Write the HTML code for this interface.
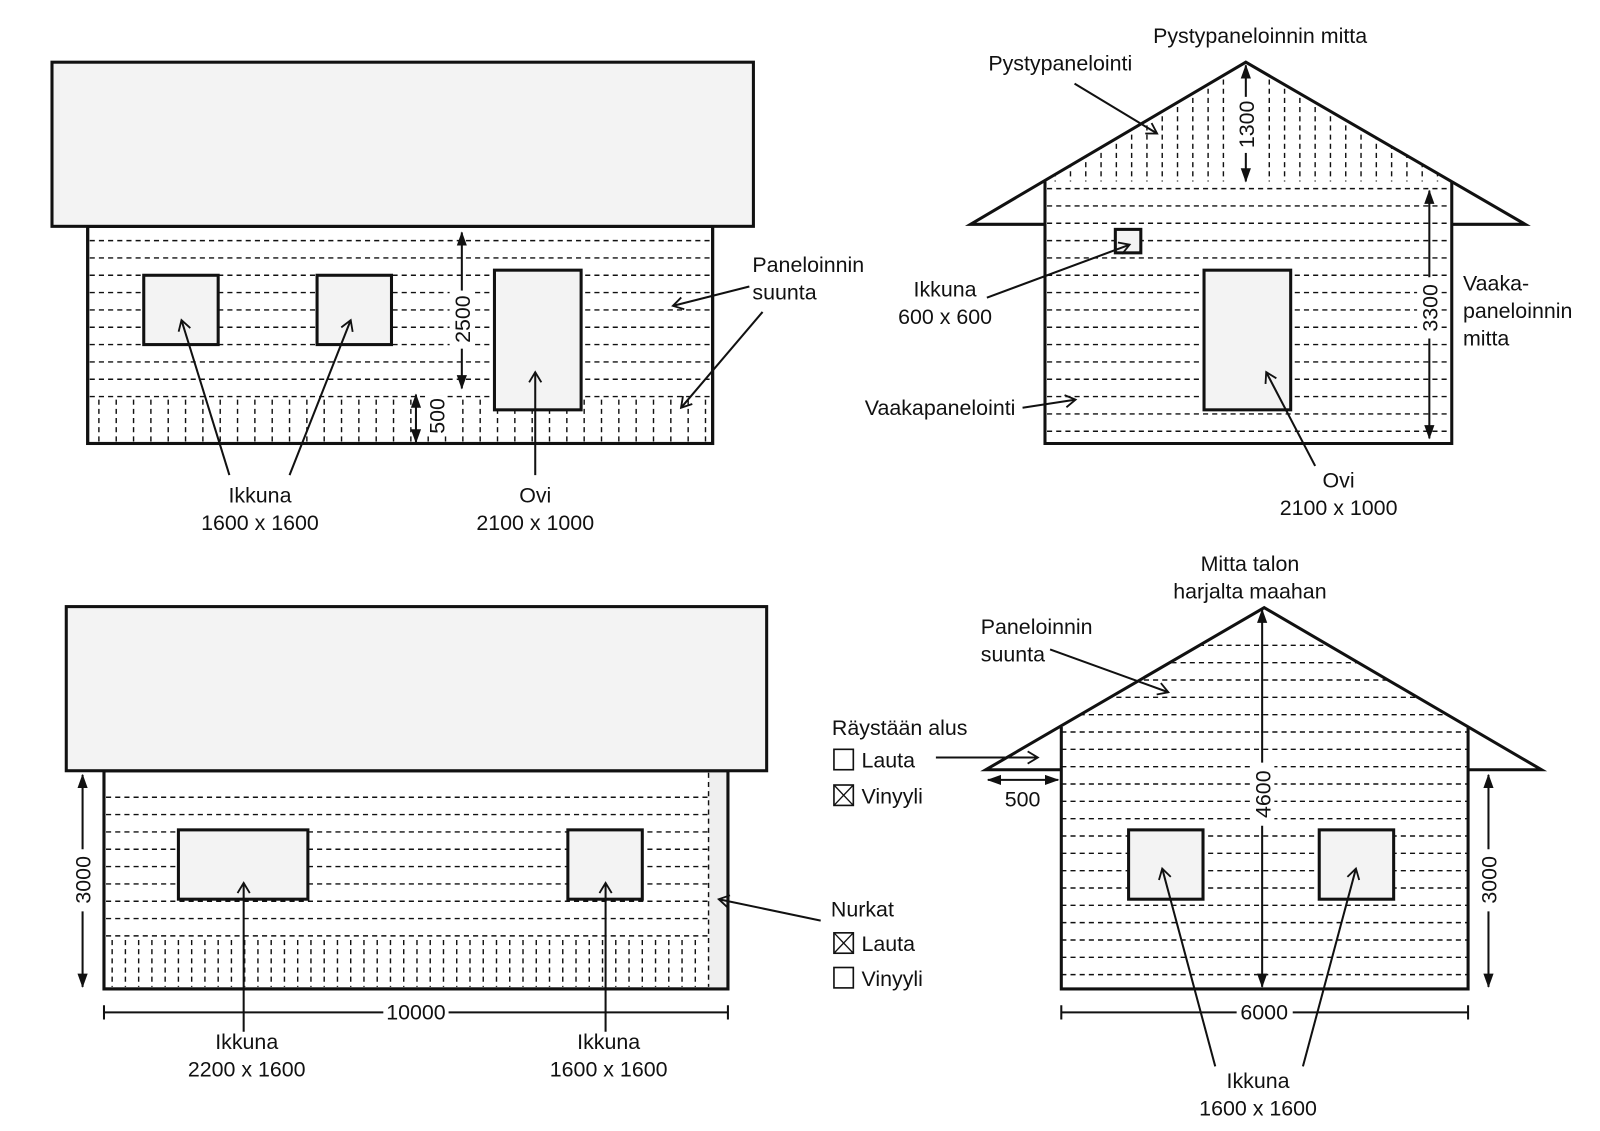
<!DOCTYPE html>
<html><head><meta charset="utf-8"><style>
html,body{margin:0;padding:0;background:#fff}
svg{display:block}
text{font-family:"Liberation Sans Narrow","Liberation Sans",sans-serif;font-size:21px;fill:#111}
.o{fill:#f3f3f3;stroke:#111;stroke-width:3}
.w{fill:#fff;stroke:#111;stroke-width:3}
.d{stroke:#111;stroke-width:1.4;stroke-dasharray:5,4;fill:none}
.a{stroke:#111;stroke-width:2;fill:none}
</style></head><body>
<svg width="1600" height="1131" viewBox="0 0 1600 1131" xmlns="http://www.w3.org/2000/svg">
<defs>
<marker id="v" markerWidth="14" markerHeight="14" refX="11" refY="7" orient="auto" markerUnits="userSpaceOnUse"><path d="M1,1 L11,7 L1,13" fill="none" stroke="#111" stroke-width="1.8"/></marker>
<marker id="f" markerWidth="14" markerHeight="14" refX="13" refY="7" orient="auto-start-reverse" markerUnits="userSpaceOnUse"><path d="M0,2 L14,7 L0,12 Z" fill="#111"/></marker>
<clipPath id="g1"><polygon points="1025,178 1222,63 1424,178"/></clipPath>
<clipPath id="g2"><polygon points="1041,713 1240,598 1440,713 1440,970 1041,970"/></clipPath>
</defs>
<g transform="scale(1.0195)">

<!-- TOP LEFT -->
<rect x="86" y="222" width="613" height="213" class="w"/>
<g class="d">
<path d="M88,236H697M88,253H697M88,270H697M88,287H697M88,304H697M88,321H697M88,338H697M88,355H697M88,372H697M88,389H697"/>
<path d="M97,392V433M114,392V433M131,392V433M148,392V433M165,392V433M182,392V433M199,392V433M216,392V433M233,392V433M250,392V433M267,392V433M284,392V433M301,392V433M318,392V433M335,392V433M352,392V433M369,392V433M386,392V433M403,392V433M420,392V433M437,392V433M454,392V433M471,392V433M488,392V433M505,392V433M522,392V433M539,392V433M556,392V433M573,392V433M590,392V433M607,392V433M624,392V433M641,392V433M658,392V433M675,392V433M692,392V433"/>
</g>
<rect x="86" y="222" width="613" height="213" fill="none" stroke="#111" stroke-width="3"/>
<rect x="51" y="61" width="688" height="161" class="o"/>
<rect x="141" y="270" width="73" height="68" class="o"/>
<rect x="311" y="270" width="73" height="68" class="o"/>
<rect x="485" y="265" width="85" height="137" class="o"/>
<rect x="441" y="284" width="24" height="60" fill="#fff"/>
<line x1="453" y1="285" x2="453" y2="228" class="a" marker-end="url(#f)"/>
<line x1="453" y1="342" x2="453" y2="381" class="a" marker-end="url(#f)"/>
<text transform="translate(461,313) rotate(-90)" text-anchor="middle">2500</text>
<line x1="408" y1="387" x2="408" y2="434" class="a" marker-start="url(#f)" marker-end="url(#f)"/>
<rect x="417" y="388" width="22" height="40" fill="#fff"/>
<text transform="translate(436,408) rotate(-90)" text-anchor="middle">500</text>
<line x1="225" y1="466" x2="178" y2="314" class="a" marker-end="url(#v)" stroke-width="1.6"/>
<line x1="284" y1="466" x2="344" y2="314" class="a" marker-end="url(#v)" stroke-width="1.6"/>
<line x1="525" y1="466" x2="525" y2="365" class="a" marker-end="url(#v)" stroke-width="1.6"/>
<line x1="735" y1="281" x2="660" y2="300" class="a" marker-end="url(#v)" stroke-width="1.6"/>
<line x1="748" y1="306" x2="668" y2="400" class="a" marker-end="url(#v)" stroke-width="1.6"/>
<text x="738" y="267">Paneloinnin</text><text x="738" y="294">suunta</text>
<text x="255" y="493" text-anchor="middle">Ikkuna</text><text x="255" y="520" text-anchor="middle">1600 x 1600</text>
<text x="525" y="493" text-anchor="middle">Ovi</text><text x="525" y="520" text-anchor="middle">2100 x 1000</text>

<!-- TOP RIGHT -->
<rect x="1025" y="178" width="399" height="257" fill="#fff"/>
<g class="d">
<path d="M1027,185H1422M1027,202H1422M1027,219H1422M1027,236H1422M1027,253H1422M1027,270H1422M1027,287H1422M1027,304H1422M1027,321H1422M1027,338H1422M1027,355H1422M1027,372H1422M1027,389H1422M1027,406H1422M1027,423H1422"/>
<g clip-path="url(#g1)"><path d="M1035,60V184M1050,60V184M1065,60V184M1080,60V184M1095,60V184M1110,60V184M1125,60V184M1140,60V184M1155,60V184M1170,60V184M1185,60V184M1200,60V184M1245,60V184M1260,60V184M1275,60V184M1290,60V184M1305,60V184M1320,60V184M1335,60V184M1350,60V184M1365,60V184M1380,60V184M1395,60V184M1410,60V184"/></g>
</g>
<path d="M1025,178V435H1424V178" fill="none" stroke="#111" stroke-width="3"/>
<path d="M1025,220H952L1222,61L1496,220H1424" fill="none" stroke="#111" stroke-width="3"/>
<rect x="1094" y="225" width="25" height="23" class="o" stroke-width="2.5"/>
<rect x="1181" y="265" width="85" height="137" class="o"/>
<line x1="1222" y1="95" x2="1222" y2="64" class="a" marker-end="url(#f)"/>
<line x1="1222" y1="150" x2="1222" y2="178" class="a" marker-end="url(#f)"/>
<text transform="translate(1230,122) rotate(-90)" text-anchor="middle">1300</text>
<rect x="1390" y="272" width="24" height="60" fill="#fff"/>
<line x1="1402" y1="272" x2="1402" y2="187" class="a" marker-end="url(#f)"/>
<line x1="1402" y1="332" x2="1402" y2="430" class="a" marker-end="url(#f)"/>
<text transform="translate(1410,302) rotate(-90)" text-anchor="middle">3300</text>
<text x="1236" y="42" text-anchor="middle">Pystypaneloinnin mitta</text>
<text x="1040" y="69" text-anchor="middle">Pystypanelointi</text>
<line x1="1054" y1="82" x2="1135" y2="131" class="a" marker-end="url(#v)" stroke-width="1.6"/>
<text x="1435" y="285">Vaaka-</text><text x="1435" y="312">paneloinnin</text><text x="1435" y="339">mitta</text>
<text x="927" y="291" text-anchor="middle">Ikkuna</text><text x="927" y="318" text-anchor="middle">600 x 600</text>
<line x1="968" y1="292" x2="1108" y2="240" class="a" marker-end="url(#v)" stroke-width="1.6"/>
<text x="996" y="407" text-anchor="end">Vaakapanelointi</text>
<line x1="1003" y1="400" x2="1055" y2="392" class="a" marker-end="url(#v)" stroke-width="1.6"/>
<line x1="1290" y1="457" x2="1242" y2="365" class="a" marker-end="url(#v)" stroke-width="1.6"/>
<text x="1313" y="478" text-anchor="middle">Ovi</text><text x="1313" y="505" text-anchor="middle">2100 x 1000</text>

<!-- BOTTOM LEFT -->
<rect x="102" y="756" width="612" height="214" class="w"/>
<rect x="695" y="756" width="19" height="214" fill="#efefef"/>
<g class="d">
<path d="M104,782H695M104,799H695M104,816H695M104,833H695M104,850H695M104,867H695M104,884H695M104,901H695M104,918H695"/>
<path d="M695,758V968"/>
<path d="M110,922V968M123,922V968M136,922V968M149,922V968M162,922V968M175,922V968M188,922V968M201,922V968M214,922V968M227,922V968M240,922V968M253,922V968M266,922V968M279,922V968M292,922V968M305,922V968M318,922V968M331,922V968M344,922V968M357,922V968M370,922V968M383,922V968M396,922V968M409,922V968M422,922V968M435,922V968M448,922V968M461,922V968M474,922V968M487,922V968M500,922V968M513,922V968M526,922V968M539,922V968M552,922V968M565,922V968M578,922V968M591,922V968M604,922V968M617,922V968M630,922V968M643,922V968M656,922V968M669,922V968M682,922V968"/>
</g>
<rect x="102" y="756" width="612" height="214" fill="none" stroke="#111" stroke-width="3"/>
<rect x="65" y="595" width="687" height="161" class="o"/>
<rect x="175" y="814" width="127" height="68" class="o"/>
<rect x="557" y="814" width="73" height="68" class="o"/>
<line x1="239" y1="1012" x2="239" y2="866" class="a" marker-end="url(#v)" stroke-width="1.6"/>
<line x1="594" y1="1012" x2="594" y2="866" class="a" marker-end="url(#v)" stroke-width="1.6"/>
<text x="242" y="1029" text-anchor="middle">Ikkuna</text><text x="242" y="1056" text-anchor="middle">2200 x 1600</text>
<text x="597" y="1029" text-anchor="middle">Ikkuna</text><text x="597" y="1056" text-anchor="middle">1600 x 1600</text>
<line x1="81" y1="833" x2="81" y2="760" class="a" marker-end="url(#f)"/>
<line x1="81" y1="894" x2="81" y2="968" class="a" marker-end="url(#f)"/>
<text transform="translate(89,863) rotate(-90)" text-anchor="middle">3000</text>
<path d="M102,986V1000M714,986V1000M102,993H376M440,993H714" class="a" stroke-width="1.6"/>
<text x="408" y="1000" text-anchor="middle">10000</text>
<line x1="805" y1="903" x2="705" y2="882" class="a" marker-end="url(#v)" stroke-width="1.6"/>
<text x="815" y="899">Nurkat</text>
<rect x="818" y="915" width="19" height="20" fill="#fff" stroke="#111" stroke-width="1.6"/>
<path d="M818,915L837,935M837,915L818,935" stroke="#111" stroke-width="1.3"/>
<text x="845" y="933">Lauta</text>
<rect x="818" y="949" width="19" height="20" fill="#fff" stroke="#111" stroke-width="1.6"/>
<text x="845" y="967">Vinyyli</text>
<text x="816" y="721">Räystään alus</text>
<rect x="818" y="735" width="19" height="20" fill="#fff" stroke="#111" stroke-width="1.6"/>
<text x="845" y="753">Lauta</text>
<rect x="818" y="770" width="19" height="20" fill="#fff" stroke="#111" stroke-width="1.6"/>
<path d="M818,770L837,790M837,770L818,790" stroke="#111" stroke-width="1.3"/>
<text x="845" y="788">Vinyyli</text>
<line x1="918" y1="743" x2="1018" y2="743" class="a" marker-end="url(#v)"/>

<!-- BOTTOM RIGHT -->
<rect x="1041" y="713" width="399" height="257" fill="#fff"/>
<g class="d" clip-path="url(#g2)">
<path d="M1041,633H1440M1041,650H1440M1041,667H1440M1041,684H1440M1041,701H1440M1041,718H1440M1041,735H1440M1041,752H1440M1041,769H1440M1041,786H1440M1041,803H1440M1041,820H1440M1041,837H1440M1041,854H1440M1041,871H1440M1041,888H1440M1041,905H1440M1041,922H1440M1041,939H1440M1041,956H1440"/>
</g>
<path d="M1041,713V970H1440V713" fill="none" stroke="#111" stroke-width="3"/>
<path d="M1041,755H967L1240,596L1512,755H1440" fill="none" stroke="#111" stroke-width="3"/>
<rect x="1107" y="814" width="73" height="68" class="o"/>
<rect x="1294" y="814" width="73" height="68" class="o"/>
<rect x="1226" y="746" width="24" height="66" fill="#fff"/>
<line x1="1238" y1="748" x2="1238" y2="598" class="a" marker-end="url(#f)"/>
<line x1="1238" y1="810" x2="1238" y2="968" class="a" marker-end="url(#f)"/>
<text transform="translate(1246,779) rotate(-90)" text-anchor="middle">4600</text>
<line x1="1460" y1="833" x2="1460" y2="760" class="a" marker-end="url(#f)"/>
<line x1="1460" y1="894" x2="1460" y2="968" class="a" marker-end="url(#f)"/>
<text transform="translate(1468,863) rotate(-90)" text-anchor="middle">3000</text>
<line x1="969" y1="765" x2="1038" y2="765" class="a" marker-start="url(#f)" marker-end="url(#f)"/>
<text x="1003" y="791" text-anchor="middle">500</text>
<path d="M1041,986V1000M1440,986V1000M1041,993H1213M1268,993H1440" class="a" stroke-width="1.6"/>
<text x="1240" y="1000" text-anchor="middle">6000</text>
<text x="1226" y="560" text-anchor="middle">Mitta talon</text><text x="1226" y="587" text-anchor="middle">harjalta maahan</text>
<text x="962" y="622">Paneloinnin</text><text x="962" y="649">suunta</text>
<line x1="1030" y1="637" x2="1146" y2="679" class="a" marker-end="url(#v)" stroke-width="1.6"/>
<line x1="1192" y1="1046" x2="1140" y2="852" class="a" marker-end="url(#v)" stroke-width="1.6"/>
<line x1="1278" y1="1046" x2="1330" y2="852" class="a" marker-end="url(#v)" stroke-width="1.6"/>
<text x="1234" y="1067" text-anchor="middle">Ikkuna</text><text x="1234" y="1094" text-anchor="middle">1600 x 1600</text>
</g>
</svg>
</body></html>
